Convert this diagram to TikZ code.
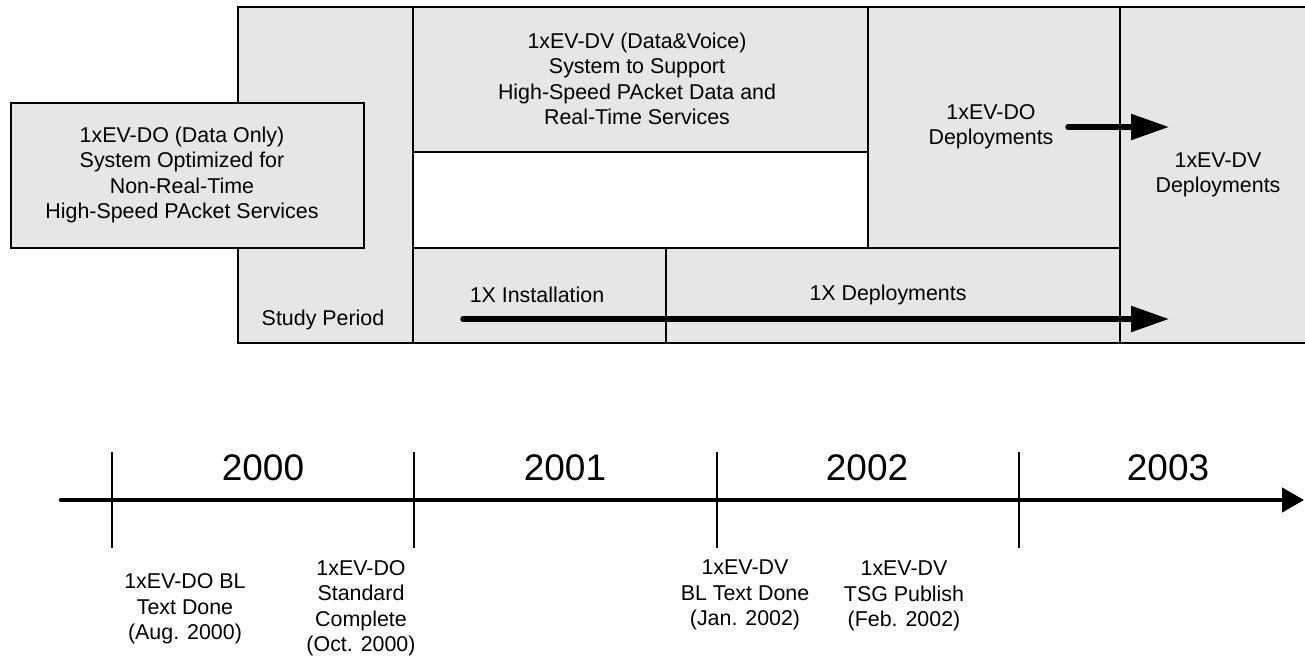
\documentclass[tikz,border=0pt]{standalone}
\usepackage{fontspec}
\setmainfont{Liberation Sans}
\usetikzlibrary{arrows.meta}
\definecolor{cellgray}{RGB}{230,230,230}
\begin{document}
\begin{tikzpicture}[x=1pt,y=-1pt,
  gridline/.style={line width=1.6pt, draw=black},
  cellfill/.style={fill=cellgray},
  lbl/.style={font=\fontsize{21.4}{25.5}\selectfont, align=center, inner sep=0pt},
  yearlbl/.style={font=\fontsize{37}{40}\selectfont, inner sep=0pt},
  bigarrow/.style={line width=5.5pt, line cap=round, -{Triangle[length=38pt,width=25pt]}},
  axisarrow/.style={line width=4.5pt, line cap=round, -{Triangle[length=22pt,width=24pt]}},
  tickline/.style={line width=1.4pt}]
\useasboundingbox (0,0) rectangle (1305,660);

% ---- phase chart ----
\fill[cellfill] (238,7) rectangle (1310,343);
\fill[white] (413,152) rectangle (868,248);
\draw[gridline] (1306,7) -- (238,7) -- (238,343) -- (1306,343);
\draw[gridline] (413,7) -- (413,343);
\draw[gridline] (868,7) -- (868,248);
\draw[gridline] (1120,7) -- (1120,343);
\draw[gridline] (413,152) -- (868,152);
\draw[gridline] (413,248) -- (1120,248);
\draw[gridline] (666,248) -- (666,343);

% 1xEV-DO box overlapping the study period column
\draw[gridline, cellfill] (11,103) rectangle (364,248);

\node[lbl] (dobox) at (182,175) {1xEV-DO (Data Only)\\System Optimized for\\Non-Real-Time\\High-Speed PAcket Services};
\node[lbl] (dvbox) at (637,79) {1xEV-DV (Data\&Voice)\\System to Support\\High-Speed PAcket Data and\\Real-Time Services};
\node[lbl] (study) at (323,320) {Study Period};
\node[lbl] (inst) at (537,295) {1X Installation};
\node[lbl] (dep1x) at (888,295) {1X Deployments};
\node[lbl] (dodep) at (991,127) {1xEV-DO\\Deployments};
\node[lbl] (dvdep) at (1218,175) {1xEV-DV\\Deployments};

\coordinate (doA) at (1068,127);
\coordinate (doB) at (1169,127);
\draw[bigarrow] (doA) -- (doB);
\coordinate (oxA) at (463,319);
\coordinate (oxB) at (1169,319);
\draw[bigarrow] (oxA) -- (oxB);

% ---- timeline ----
\coordinate (t0) at (61,500);
\coordinate (t1) at (1304,500);
\draw[axisarrow] (t0) -- (t1);
\foreach \x in {112,414,717,1019}
  \draw[tickline] (\x,452) -- (\x,548);

\node[yearlbl] (y2000) at (263,468) {2000};
\node[yearlbl] (y2001) at (565,468) {2001};
\node[yearlbl] (y2002) at (867,468) {2002};
\node[yearlbl] (y2003) at (1168,468) {2003};

\node[lbl] (m1) at (185,609) {1xEV-DO BL\\Text Done\\(Aug. 2000)};
\node[lbl] (m2) at (361,608) {1xEV-DO\\Standard\\Complete\\(Oct. 2000)};
\node[lbl] (m3) at (745,595) {1xEV-DV\\BL Text Done\\(Jan. 2002)};
\node[lbl] (m4) at (904,596) {1xEV-DV\\TSG Publish\\(Feb. 2002)};
\end{tikzpicture}
\end{document}
